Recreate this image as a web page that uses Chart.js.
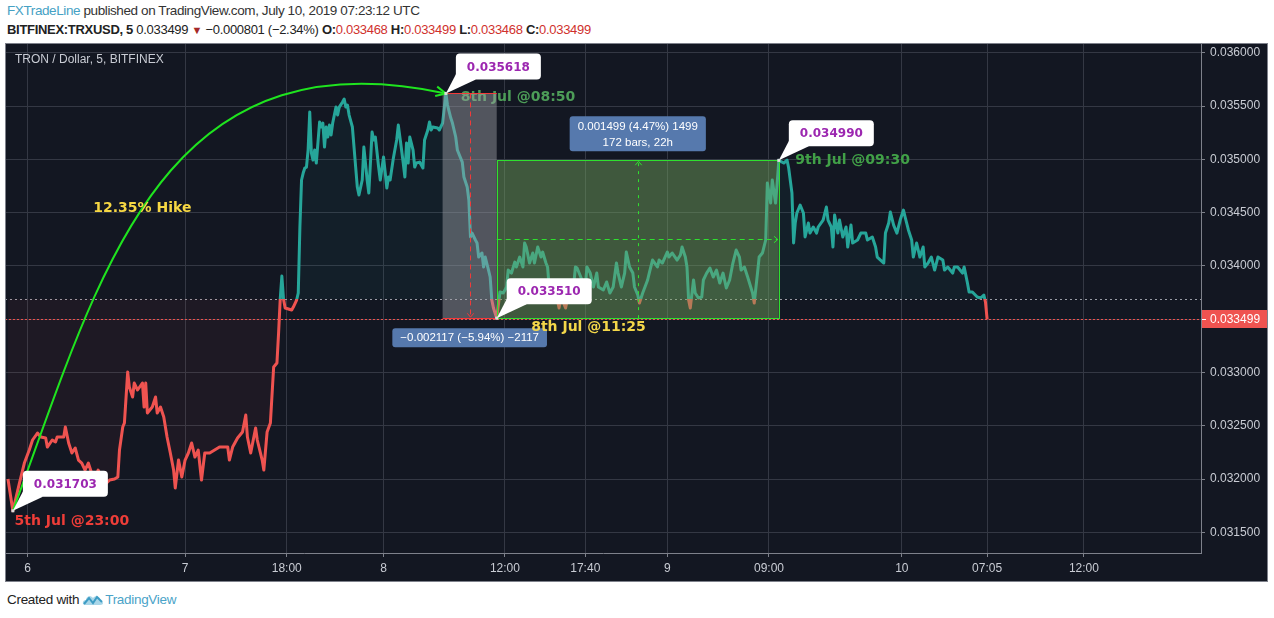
<!DOCTYPE html>
<html>
<head>
<meta charset="utf-8">
<script src="https://cdn.jsdelivr.net/npm/chart.js@4.4.1/dist/chart.umd.min.js"></script>
<style>
  html, body { margin: 0; padding: 0; background: #fff; width: 1274px; height: 618px; overflow: hidden; }
  body { font-family: "Liberation Sans", Arial, sans-serif; color: #333; }
  .hdr { position: absolute; left: 7px; white-space: nowrap; }
  #hdr1 { top: 3px; font-size: 13.5px; letter-spacing: -0.4px; }
  #hdr2 { top: 22px; font-size: 13px; letter-spacing: -0.3px; color: #222; }
  #hdr1 .who { color: #45a1c4; }
  .red { color: #d0312d; }
  .tri { color: #a52828; font-size: 11px; }
  #panel { position: absolute; left: 5px; top: 43px; }
  #foot { position: absolute; left: 7px; top: 592px; font-size: 13.5px; letter-spacing: -0.3px; color: #222; white-space: nowrap; }
  #foot svg { vertical-align: -3px; margin: 0 1px 0 3px; }
  #foot .tv { color: #4aa3c8; }
</style>
</head>
<body>
<div class="hdr" id="hdr1"><span class="who">FXTradeLine</span> published on TradingView.com, July 10, 2019 07:23:12 UTC</div>
<div class="hdr" id="hdr2"><b>BITFINEX:TRXUSD, 5</b> 0.033499 <span class="tri">&#9660;</span> &minus;0.000801 (&minus;2.34%) <b>O:</b><span class="red">0.033468</span> <b>H:</b><span class="red">0.033499</span> <b>L:</b><span class="red">0.033468</span> <b>C:</b><span class="red">0.033499</span></div>
<div id="panel"><canvas id="chart" width="1263" height="539"></canvas></div>
<div id="foot">Created with<svg width="22" height="14" viewBox="0 0 22 14"><path d="M3 12 C0 12 0 7 4 7 C4 3 9 2 11 5 C13 2 19 3 18 8 C22 8 22 12 18 12 Z" fill="#a9d6e8"/><polyline points="2,11 7,5 11,10 15,4 20,9" fill="none" stroke="#3d9cc4" stroke-width="2"/></svg><span class="tv">TradingView</span></div>

<script>
// 5-minute bars (index counted from the first visible bar) and close prices
const bars = [
  0, 3, 7, 10, 13, 15, 18, 20, 23, 24, 27, 29, 30, 34, 35, 37, 39, 41, 43, 45,
  47, 49, 51, 53, 55, 57, 60, 62, 65, 67, 68, 70, 71, 73, 74, 76, 77, 79, 82, 83,
  84, 85, 88, 90, 91, 93, 95, 97, 99, 101, 102, 104, 106, 108, 110, 112, 114, 116, 118, 120,
  123, 126, 129, 134, 135, 137, 140, 143, 145, 146, 148, 151, 152, 155, 156, 158, 160, 162, 164, 165,
  166, 167, 168, 169, 173, 174, 176,
  177, 178, 179, 180, 181, 182, 183, 184, 185, 186, 187, 188, 190, 191, 192, 193, 194, 195, 196, 197,
  198, 200, 201, 202, 204, 205, 206, 207, 208, 210, 212, 213, 214, 216, 217, 219, 220, 221, 222, 223,
  224, 226, 227, 229, 231, 232, 233, 235, 237, 238, 240, 241, 242, 243, 244, 245, 247, 248, 249, 251,
  253, 254, 256, 257, 258, 259, 262, 263, 265, 267, 268, 270, 271, 273, 274, 277, 278, 280, 281, 282,
  283, 285, 286, 287, 289, 290, 291, 293, 294, 295, 296, 298,
  300, 302, 304, 305, 307, 309, 310, 312, 314, 315, 316, 318, 320, 321, 323, 325, 326, 328, 329, 330,
  332, 335, 336, 337, 338, 340, 341, 344, 346, 347, 350, 352, 353, 355, 357, 359, 360, 363, 365, 367,
  369, 371, 372, 374, 376, 377, 379, 381, 382, 384, 385, 387, 390, 391, 393, 396, 397, 399, 402, 403,
  405, 408, 410, 411, 413, 414, 415, 416, 418, 419, 421, 423, 424, 426, 428, 430, 432, 434, 436, 438,
  440, 442, 444, 446, 447, 449, 451, 454, 455, 457, 458, 460, 462, 463, 465, 466, 468, 469, 470,
  473, 475, 476, 478, 479, 480, 481, 483, 485, 486, 488, 489, 491, 493, 494, 497, 499, 500, 502, 503,
  504, 506, 507, 509, 511, 512, 514, 515, 518, 520, 523, 524, 527, 529, 530, 534, 535, 537, 538, 540,
  542, 544, 546, 547, 549, 551, 552, 554, 556, 558, 559, 561, 563, 565, 567, 570, 571, 573, 576, 577,
  579, 582, 583, 585, 586, 588, 591, 593, 595, 596, 597
];
const prices = [
  0.032001, 0.031703, 0.031963, 0.032151, 0.032273, 0.032367, 0.032432, 0.032395, 0.032386, 0.032301,
  0.032367, 0.032348, 0.032395, 0.032395, 0.032489, 0.032339, 0.032245, 0.032292, 0.032179, 0.032151,
  0.032085, 0.032151, 0.032057, 0.031992, 0.032085, 0.032020, 0.031963, 0.031992, 0.032001, 0.032020,
  0.032273, 0.032489, 0.032526, 0.033005, 0.032864, 0.032770, 0.032901, 0.032836, 0.032901, 0.032676,
  0.032901, 0.032620, 0.032676, 0.032770, 0.032620, 0.032676, 0.032583, 0.032395, 0.032245, 0.032085,
  0.031917, 0.032179, 0.032020, 0.032179, 0.032245, 0.032339, 0.032207, 0.032273, 0.031992, 0.032245,
  0.032245, 0.032273, 0.032301, 0.032301, 0.032179, 0.032301, 0.032386, 0.032442, 0.032601, 0.032395,
  0.032245, 0.032479, 0.032367, 0.032179, 0.032085, 0.032442, 0.032526, 0.033052, 0.033089, 0.033370,
  0.033689, 0.033905, 0.033689, 0.033605, 0.033586, 0.033614, 0.033680,
  0.033746, 0.034365, 0.034806, 0.034871, 0.034918, 0.034927, 0.035087, 0.035443, 0.035059, 0.034993,
  0.035087, 0.034965, 0.035350, 0.035303, 0.035340, 0.035115, 0.035303, 0.035209, 0.035321, 0.035228,
  0.035340, 0.035490, 0.035415, 0.035490, 0.035537, 0.035565, 0.035490, 0.035509, 0.035415, 0.035303,
  0.034927, 0.034740, 0.034665, 0.034806, 0.035115, 0.034806, 0.034684, 0.034965, 0.035256, 0.035181,
  0.035209, 0.034927, 0.034806, 0.035021, 0.034731, 0.034834, 0.034806, 0.035012, 0.035181, 0.035321,
  0.035087, 0.034965, 0.034834, 0.035153, 0.034965, 0.035209, 0.035087, 0.034927, 0.034965, 0.034974,
  0.034918, 0.035181, 0.035275, 0.035350, 0.035275, 0.035303, 0.035293, 0.035275, 0.035340, 0.035618,
  0.035509, 0.035387, 0.035340, 0.035209, 0.035087, 0.034974, 0.034834, 0.034740, 0.034618, 0.034271,
  0.034308, 0.034243, 0.034215, 0.034083, 0.034121, 0.033990, 0.034083, 0.033961, 0.033896, 0.033680,
  0.033605, 0.033510,
  0.033755, 0.033746, 0.033802, 0.033961, 0.033933, 0.034036, 0.033990, 0.034083, 0.033990, 0.034215,
  0.034177, 0.034027, 0.034121, 0.034027, 0.034177, 0.034083, 0.034130, 0.034027, 0.033990, 0.033802,
  0.033774, 0.033680, 0.033605, 0.033680, 0.033680, 0.033605, 0.033680, 0.033680, 0.033990, 0.033980,
  0.033868, 0.033802, 0.033990, 0.033933, 0.033802, 0.033933, 0.033802, 0.033774, 0.033849, 0.033746,
  0.033802, 0.034027, 0.033933, 0.033802, 0.033933, 0.034130, 0.033990, 0.033933, 0.033802, 0.033727,
  0.033652, 0.033746, 0.033868, 0.033933, 0.034055, 0.033990, 0.034055, 0.034027, 0.034130, 0.034083,
  0.034121, 0.034055, 0.034102, 0.034177, 0.034083, 0.033990, 0.033680, 0.033605, 0.033868, 0.033746,
  0.033699, 0.033708, 0.033868, 0.033933, 0.033980, 0.033896, 0.033961, 0.033839, 0.033933, 0.033793,
  0.033868, 0.034027, 0.034149, 0.034083, 0.033961, 0.033990, 0.033896, 0.033746, 0.033652, 0.033933,
  0.034083, 0.034121, 0.034243, 0.034777, 0.034590, 0.034806, 0.034590, 0.034777, 0.034990,
  0.034965, 0.034993, 0.034918, 0.034684, 0.034215, 0.034402, 0.034496, 0.034571, 0.034496, 0.034271,
  0.034402, 0.034308, 0.034365, 0.034308, 0.034365, 0.034430, 0.034552, 0.034430, 0.034365, 0.034177,
  0.034477, 0.034308, 0.034430, 0.034271, 0.034365, 0.034177, 0.034383, 0.034215, 0.034243, 0.034308,
  0.034308, 0.034243, 0.034271, 0.034177, 0.034083, 0.034027, 0.034308, 0.034402, 0.034505, 0.034383,
  0.034308, 0.034430, 0.034524, 0.034459, 0.034337, 0.034243, 0.034083, 0.034215, 0.034083, 0.034177,
  0.033990, 0.034027, 0.034083, 0.033961, 0.034083, 0.034055, 0.033961, 0.033990, 0.033933, 0.033990,
  0.033990, 0.033933, 0.033990, 0.033839, 0.033755, 0.033755, 0.033708, 0.033699, 0.033727, 0.033661,
  0.033499
];

const xTickBars = [12, 108, 170, 229, 303, 352, 402, 464, 545, 597, 656];
const xTickLabels = ['6', '7', '18:00', '8', '12:00', '17:40', '9', '09:00', '10', '07:05', '12:00'];
const yTicks = [0.0315, 0.032, 0.0325, 0.033, 0.0335, 0.034, 0.0345, 0.035, 0.0355, 0.036];

const BASELINE = 0.03369;
const LAST_PRICE = 0.033499;
const X_MIN = -1.8, X_MAX = 727.4;
const Y_MIN = 0.031307, Y_MAX = 0.036091;

// drawings, anchored in (bar, price)
const callouts = [
  { bar: 3, price: 0.031703 },
  { bar: 267, price: 0.035618 },
  { bar: 298, price: 0.033510 },
  { bar: 470, price: 0.034990 }
];
const notes = [
  { text: '5th Jul @23:00', bar: 4, price: 0.031607, color: '#ee3d38' },
  { text: '12.35% Hike', bar: 52, price: 0.034543, color: '#f6d743' },
  { text: '9th Jul @09:30', bar: 480, price: 0.034993, color: '#41a047' },
  { text: '8th Jul @11:25', bar: 319, price: 0.033427, color: '#f3d74a' }
];
const noteUnder = { text: '8th Jul @08:50', bar: 276, price: 0.035584, color: '#4d9d58' };
const dropRange = { from: 265, to: 298, top: 0.035618, bottom: 0.033510, label: '\u22120.002117 (\u22125.94%) \u22122117' };
const riseRange = { from: 298, to: 470, top: 0.034990, bottom: 0.033510, label: ['0.001499 (4.47%) 1499', '172 bars, 22h'] };
const hikeArc = { start: [3, 0.031703], c1: [56, 0.033900], c2: [92, 0.036200], end: [267, 0.035618] };

const BG = '#131722';
const GRID = '#343844';
const AXIS = '#7e818b';
const TICK_TEXT = '#c9ccd4';
const TEAL = '#26a69a';
const RED = '#ef5350';

function lineColor(context) {
  const chart = context.chart;
  const area = chart.chartArea;
  if (!area) return TEAL;
  const y = chart.scales.y.getPixelForValue(BASELINE);
  const t = Math.min(Math.max((y - area.top) / (area.bottom - area.top), 0), 1);
  const g = chart.ctx.createLinearGradient(0, area.top, 0, area.bottom);
  g.addColorStop(0, TEAL);
  g.addColorStop(t, TEAL);
  g.addColorStop(Math.min(t + 0.0001, 1), RED);
  g.addColorStop(1, RED);
  return g;
}

function arrowHead(ctx, x, y, ang, len, spread) {
  ctx.beginPath();
  ctx.moveTo(x - len * Math.cos(ang - spread), y - len * Math.sin(ang - spread));
  ctx.lineTo(x, y);
  ctx.lineTo(x - len * Math.cos(ang + spread), y - len * Math.sin(ang + spread));
  ctx.stroke();
}

function hLine(ctx, area, y, color, dash) {
  ctx.save();
  ctx.strokeStyle = color;
  ctx.lineWidth = 1;
  ctx.setLineDash(dash);
  ctx.beginPath();
  ctx.moveTo(area.left, Math.round(y) + 0.5);
  ctx.lineTo(area.right, Math.round(y) + 0.5);
  ctx.stroke();
  ctx.restore();
}

function drawNote(ctx, n, X, Y) {
  ctx.font = 'bold 14px "DejaVu Sans"';
  ctx.fillStyle = n.color;
  ctx.textAlign = 'left';
  ctx.textBaseline = 'middle';
  ctx.fillText(n.text, X(n.bar), Y(n.price));
}

function blueLabel(ctx, cx, yEdge, lines, above) {
  ctx.font = '11.5px "Liberation Sans"';
  const w = Math.max(...lines.map(l => ctx.measureText(l).width)) + 16;
  const h = lines.length * 16 + 3;
  const top = above ? yEdge - h : yEdge;
  ctx.fillStyle = '#5679ad';
  ctx.beginPath();
  ctx.roundRect(cx - w / 2, top, w, h, 3);
  ctx.fill();
  ctx.fillStyle = '#fff';
  ctx.textAlign = 'center';
  ctx.textBaseline = 'middle';
  lines.forEach((l, i) => ctx.fillText(l, cx, top + 10 + i * 16));
}

const panelPlugin = {
  id: 'panel',
  beforeDraw(chart) {
    const ctx = chart.ctx;
    ctx.save();
    ctx.fillStyle = BG;
    ctx.fillRect(0, 0, chart.width, chart.height);
    ctx.restore();
  },
  beforeDatasetsDraw(chart) {
    const area = chart.chartArea;
    const y = chart.scales.y;
    hLine(chart.ctx, area, y.getPixelForValue(BASELINE), '#9a9da6', [2, 3]);
    hLine(chart.ctx, area, y.getPixelForValue(LAST_PRICE), RED, [2, 2]);
  },
  afterDatasetsDraw(chart) {
    const ctx = chart.ctx;
    const area = chart.chartArea;
    const X = v => chart.scales.x.getPixelForValue(v);
    const Y = v => chart.scales.y.getPixelForValue(v);
    ctx.save();
    ctx.beginPath();
    ctx.rect(area.left, area.top, area.right - area.left, area.bottom - area.top);
    ctx.clip();

    drawNote(ctx, noteUnder, X, Y);

    // falling price range
    let l = X(dropRange.from), r = X(dropRange.to), t = Y(dropRange.top), b = Y(dropRange.bottom);
    ctx.fillStyle = 'rgba(160,162,168,0.45)';
    ctx.fillRect(l, t, r - l, b - t);
    ctx.strokeStyle = '#f23a3a';
    ctx.lineWidth = 1;
    ctx.beginPath();
    ctx.moveTo(l, Math.round(t) + 0.5); ctx.lineTo(r, Math.round(t) + 0.5);
    ctx.moveTo(l, Math.round(b) + 0.5); ctx.lineTo(r, Math.round(b) + 0.5);
    ctx.stroke();
    let mx = Math.round((l + r) / 2) + 0.5;
    ctx.setLineDash([5, 4]);
    ctx.beginPath(); ctx.moveTo(mx, t); ctx.lineTo(mx, b - 1); ctx.stroke();
    ctx.setLineDash([]);
    arrowHead(ctx, mx, b - 1, Math.PI / 2, 5, 0.7);
    const dropMid = (l + r) / 2, dropBottom = b;

    // rising price range
    l = X(riseRange.from); r = X(riseRange.to); t = Y(riseRange.top); b = Y(riseRange.bottom);
    ctx.fillStyle = 'rgba(118,168,96,0.45)';
    ctx.fillRect(l, t, r - l, b - t);
    ctx.strokeStyle = '#2fe02f';
    ctx.strokeRect(Math.round(l) + 0.5, Math.round(t) + 0.5, Math.round(r - l), Math.round(b - t));
    mx = Math.round((l + r) / 2) + 0.5;
    const my = Math.round((t + b) / 2) + 0.5;
    ctx.setLineDash([3, 5]);
    ctx.beginPath(); ctx.moveTo(mx, b); ctx.lineTo(mx, t + 1); ctx.stroke();
    ctx.setLineDash([5, 4]);
    ctx.beginPath(); ctx.moveTo(l, my); ctx.lineTo(r - 1, my); ctx.stroke();
    ctx.setLineDash([]);
    arrowHead(ctx, mx, t + 1, -Math.PI / 2, 5, 0.7);
    arrowHead(ctx, r - 1, my, 0, 5, 0.7);
    const riseMid = (l + r) / 2, riseTop = t;

    // hike arc
    const p0 = [X(hikeArc.start[0]), Y(hikeArc.start[1])];
    const c1 = [X(hikeArc.c1[0]), Y(hikeArc.c1[1])];
    const c2 = [X(hikeArc.c2[0]), Y(hikeArc.c2[1])];
    const p3 = [X(hikeArc.end[0]), Y(hikeArc.end[1])];
    ctx.strokeStyle = '#1fe41f';
    ctx.lineWidth = 2;
    ctx.beginPath();
    ctx.moveTo(p0[0], p0[1]);
    ctx.bezierCurveTo(c1[0], c1[1], c2[0], c2[1], p3[0], p3[1]);
    ctx.stroke();
    arrowHead(ctx, p3[0], p3[1], Math.atan2(p3[1] - c2[1], p3[0] - c2[0]), 11, 0.45);

    // callouts
    callouts.forEach(c => {
      const x = X(c.bar), y = Y(c.price);
      const bx = x + 10, by = y - 40, bw = 85, bh = 26;
      ctx.fillStyle = '#fff';
      ctx.beginPath();
      ctx.moveTo(x, y);
      ctx.lineTo(bx + 2, by + bh - 9);
      ctx.lineTo(bx + 20, by + bh);
      ctx.closePath();
      ctx.fill();
      ctx.beginPath();
      ctx.roundRect(bx, by, bw, bh, 4);
      ctx.fill();
      ctx.fillStyle = '#9c27b0';
      ctx.font = 'bold 12px "DejaVu Sans"';
      ctx.textAlign = 'center';
      ctx.textBaseline = 'middle';
      ctx.fillText(c.price.toFixed(6), bx + bw / 2, by + bh / 2 + 1);
      ctx.fillStyle = '#ddd';
      ctx.fillRect(x - 1.5, y - 1.5, 3, 3);
    });

    blueLabel(ctx, dropMid, dropBottom + 10, [dropRange.label], false);
    blueLabel(ctx, riseMid, riseTop - 9, riseRange.label, true);

    notes.forEach(n => drawNote(ctx, n, X, Y));
    ctx.restore();
  },
  afterDraw(chart) {
    const ctx = chart.ctx;
    const area = chart.chartArea;
    const y = Math.round(chart.scales.y.getPixelForValue(LAST_PRICE));
    ctx.save();
    // symbol title
    ctx.font = '12px "Liberation Sans"';
    ctx.fillStyle = TICK_TEXT;
    ctx.textAlign = 'left';
    ctx.textBaseline = 'middle';
    ctx.fillText('TRON / Dollar, 5, BITFINEX', 10, 17);
    // last price tag
    ctx.fillStyle = RED;
    ctx.fillRect(area.right + 1, y - 9, chart.width - area.right - 2, 18);
    ctx.fillStyle = '#fff';
    ctx.fillRect(area.right + 1, y, 4, 1);
    ctx.font = '12px "Liberation Sans"';
    ctx.fillText(LAST_PRICE.toFixed(6), area.right + 9, y + 1);
    // panel frame
    ctx.strokeStyle = AXIS;
    ctx.lineWidth = 1;
    ctx.strokeRect(0.5, 0.5, chart.width - 1, chart.height - 1);
    ctx.restore();
  }
};

const tickFont = { family: '"Liberation Sans", Arial, sans-serif', size: 12 };

new Chart(document.getElementById('chart'), {
  type: 'line',
  data: {
    datasets: [{
      data: bars.map((b, i) => ({ x: b, y: prices[i] })),
      borderColor: lineColor,
      borderWidth: 3,
      borderJoinStyle: 'round',
      pointRadius: 0,
      tension: 0,
      fill: {
        target: { value: BASELINE },
        above: 'rgba(38,166,154,0.06)',
        below: 'rgba(239,83,80,0.05)'
      }
    }]
  },
  options: {
    responsive: false,
    animation: false,
    events: [],
    layout: { padding: 0 },
    plugins: { legend: { display: false }, tooltip: { enabled: false } },
    scales: {
      x: {
        type: 'linear',
        min: X_MIN,
        max: X_MAX,
        afterBuildTicks: s => { s.ticks = xTickBars.map(v => ({ value: v })); },
        afterFit: s => { s.height = 29; s.paddingLeft = 0; s.paddingRight = 0; },
        ticks: {
          callback: v => xTickLabels[xTickBars.indexOf(v)],
          color: TICK_TEXT,
          font: tickFont,
          padding: 4,
          maxRotation: 0,
          autoSkip: false
        },
        grid: { color: GRID, tickLength: 4, tickColor: AXIS },
        border: { color: AXIS }
      },
      y: {
        position: 'right',
        min: Y_MIN,
        max: Y_MAX,
        afterBuildTicks: s => { s.ticks = yTicks.map(v => ({ value: v })); },
        afterFit: s => { s.width = 67; s.paddingTop = 0; s.paddingBottom = 0; },
        ticks: {
          callback: v => v.toFixed(6),
          color: TICK_TEXT,
          font: tickFont,
          padding: 5
        },
        grid: { color: GRID, tickLength: 4, tickColor: AXIS },
        border: { color: AXIS }
      }
    }
  },
  plugins: [panelPlugin]
});
</script>
</body>
</html>
